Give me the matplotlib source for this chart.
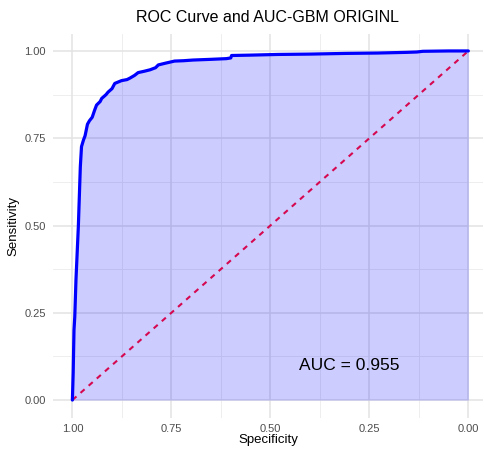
import matplotlib
matplotlib.use("Agg")
import matplotlib.pyplot as plt
import numpy as np

specificity = [1.000, 0.998, 0.996, 0.994, 0.991, 0.985, 0.980, 0.977, 0.972, 0.968,
               0.962, 0.957, 0.950, 0.944, 0.939, 0.930, 0.926, 0.915, 0.910, 0.900,
               0.893, 0.876, 0.862, 0.855, 0.843, 0.834, 0.818, 0.804, 0.790, 0.783,
               0.765, 0.742, 0.720, 0.695, 0.650, 0.611, 0.600, 0.598, 0.552, 0.480,
               0.400, 0.308, 0.230, 0.156, 0.130, 0.115, 0.050, 0.000]
sensitivity = [0.000, 0.080, 0.200, 0.239, 0.344, 0.497, 0.668, 0.726, 0.745, 0.757,
               0.790, 0.800, 0.810, 0.830, 0.845, 0.855, 0.864, 0.875, 0.882, 0.892,
               0.907, 0.915, 0.918, 0.922, 0.930, 0.938, 0.942, 0.946, 0.952, 0.960,
               0.965, 0.971, 0.972, 0.974, 0.976, 0.978, 0.980, 0.987, 0.988, 0.990,
               0.991, 0.993, 0.994, 0.996, 0.997, 0.999, 1.000, 1.000]
auc_value = 0.955
ticks = [0.0, 0.25, 0.5, 0.75, 1.0]
tick_labels = ["0.00", "0.25", "0.50", "0.75", "1.00"]
minor_ticks = [0.125, 0.375, 0.625, 0.875]

plt.rcParams['font.family'] = ['Liberation Sans', 'DejaVu Sans']

W, H = 484, 449
fig = plt.figure(figsize=(W / 100, H / 100), dpi=100)
ax = fig.add_axes([53 / W, 1 - 417.5 / H, (483 - 53) / W, (417.5 - 33.5) / H])

ax.set_xlim(1.049, -0.037)
ax.set_ylim(-0.05, 1.05)

for v in minor_ticks:
    ax.axvline(v, color="#EBEBEB", lw=0.6, zorder=0)
    ax.axhline(v, color="#EBEBEB", lw=0.6, zorder=0)
for v in ticks:
    ax.axvline(v, color="#E3E3E3", lw=1.1, zorder=0)
    ax.axhline(v, color="#E3E3E3", lw=1.1, zorder=0)

ax.fill_between(specificity, 0, sensitivity, color="blue", alpha=0.2, lw=0, zorder=1)
ax.plot([1, 0], [0, 1], color="#D6084F", lw=1.5, ls=(0, (2.6, 2.6)), zorder=2)
ax.plot(specificity, sensitivity, color="#0000FF", lw=2.3, zorder=3,
        solid_joinstyle="round", solid_capstyle="round")

ax.text(0.3, 0.1, f"AUC = {auc_value:.3f}", fontsize=12.5, ha="center", va="center", color="black")

for s in ax.spines.values():
    s.set_visible(False)
ax.set_xticks(ticks)
ax.set_xticklabels(tick_labels)
ax.set_yticks(ticks)
ax.set_yticklabels(tick_labels)
ax.tick_params(length=0, labelsize=8, labelcolor="#4D4D4D", pad=5)
ax.set_ylabel("Sensitivity", fontsize=9.5, labelpad=4)
fig.text(268 / W, 1 - 440 / H, "Specificity", fontsize=9.5, ha="center", va="center")
fig.text(268 / W, 1 - 17 / H, "ROC Curve and AUC-GBM ORIGINL", fontsize=11.5,
         ha="center", va="center")

fig.savefig("out.png", dpi=100, facecolor="white")
